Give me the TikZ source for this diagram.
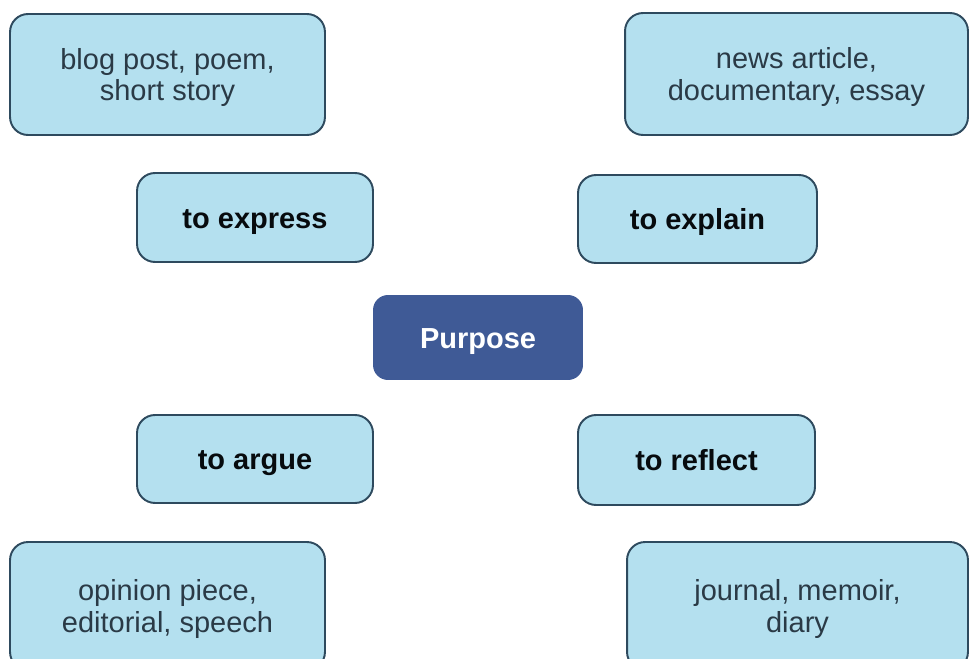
\documentclass[tikz,border=0pt]{standalone}
\usepackage{fontspec}
\setmainfont{Liberation Sans}
\definecolor{boxfill}{HTML}{B4E0EF}
\definecolor{boxline}{HTML}{2E4A5E}
\definecolor{centrefill}{HTML}{3F5A96}
\definecolor{inktext}{HTML}{2A3A46}
\begin{document}
\begin{tikzpicture}[x=0.02cm,y=-0.02cm,
    formbox/.style={draw=boxline, line width=1.1pt, fill=boxfill,
      rounded corners=0.36cm, align=center, inner sep=0pt, text=inktext,
      text depth=0pt, font=\fontsize{16.5}{18}\selectfont},
    aimbox/.style={formbox, text=black!85!boxline, text height=12pt, text depth=0pt,
      font=\fontsize{16.5}{18}\selectfont\bfseries},
    hubbox/.style={fill=centrefill, rounded corners=0.3cm, inner sep=0pt,
      text=white, text height=12pt, text depth=0pt,
      font=\fontsize{16.5}{18}\selectfont\bfseries}]
    \useasboundingbox (0,0) rectangle (970,659);
    \clip (0,0) rectangle (970,659);

    % Centre
    \node[hubbox, minimum width=4.2cm, minimum height=1.7cm] (purpose) at (478,337.5) {Purpose};

    % Purposes
    \node[aimbox, minimum width=4.72cm, minimum height=1.78cm] (express) at (255,217.5) {to express};
    \node[aimbox, minimum width=4.78cm, minimum height=1.76cm] (explain) at (697.5,219) {to explain};
    \node[aimbox, minimum width=4.72cm, minimum height=1.76cm] (argue) at (255,459) {to argue};
    \node[aimbox, minimum width=4.74cm, minimum height=1.8cm] (reflect) at (696.5,460) {to reflect};

    % Forms
    \node[formbox, minimum width=6.3cm, minimum height=2.42cm] (expressforms) at (167.5,74.5) {blog post, poem,\\short story};
    \node[formbox, minimum width=6.86cm, minimum height=2.44cm] (explainforms) at (796.5,74) {news article,\\documentary, essay};
    \node[formbox, minimum width=6.3cm, minimum height=2.56cm] (argueforms) at (167.5,606) {opinion piece,\\editorial, speech};
    \node[formbox, minimum width=6.82cm, minimum height=2.56cm] (reflectforms) at (797.5,606) {journal, memoir,\\diary};

\end{tikzpicture}
\end{document}
